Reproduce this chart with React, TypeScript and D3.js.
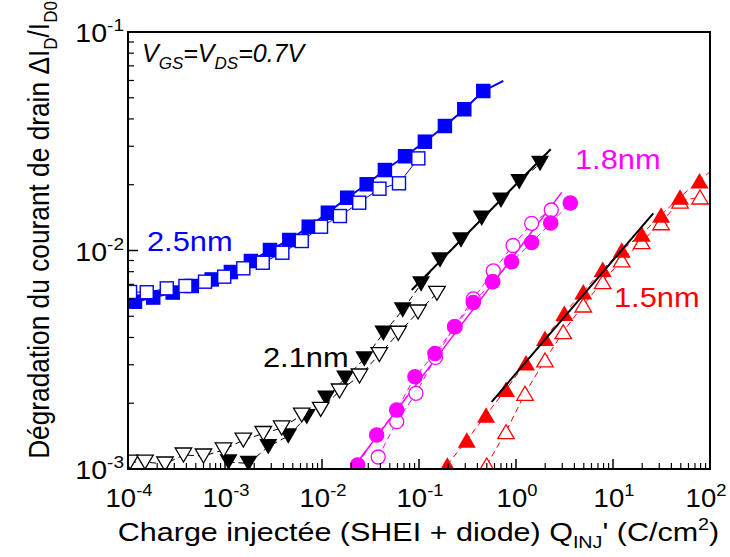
import React from "react";
import * as d3 from "d3";

// ---- data ----
const blueFilledX = [1.18e-4, 1.82e-4, 2.89e-4, 4.54e-4, 7.29e-4, 1.15e-3, 1.85e-3, 2.91e-3, 4.6e-3, 7.3e-3, 1.15e-2, 1.82e-2, 2.89e-2, 4.45e-2, 7.18e-2, 0.115, 0.185, 0.293, 0.46];
const blueFilledY = [5.83e-3, 6.09e-3, 6.42e-3, 6.88e-3, 7.37e-3, 7.97e-3, 8.95e-3, 1.005e-2, 1.117e-2, 1.285e-2, 1.489e-2, 1.744e-2, 2.009e-2, 2.335e-2, 2.7e-2, 3.147e-2, 3.713e-2, 4.43e-2, 5.37e-2];
const blueOpenX = [1.05e-4, 1.56e-4, 2.51e-4, 3.91e-4, 6.22e-4, 9.81e-4, 1.545e-3, 2.45e-3, 3.9e-3, 6.18e-3, 9.77e-3, 1.53e-2, 2.42e-2, 3.91e-2, 6.22e-2, 9.84e-2];
const blueOpenY = [6.46e-3, 6.44e-3, 6.71e-3, 6.88e-3, 7.2e-3, 7.59e-3, 8.29e-3, 8.79e-3, 9.77e-3, 1.105e-2, 1.285e-2, 1.438e-2, 1.655e-2, 1.918e-2, 2.03e-2, 2.64e-2];
const blueFitEndX = [0.74];
const blueFitEndY = [5.98e-2];

const blackFilledX = [1.087e-3, 1.747e-3, 2.79e-3, 4.49e-3, 6.96e-3, 1.1e-2, 1.73e-2, 2.73e-2, 4.29e-2, 6.79e-2, 0.105, 0.1646, 0.271, 0.443, 0.7, 1.08, 1.77];
const blackFilledY = [1.076e-3, 1.06e-3, 1.265e-3, 1.416e-3, 1.735e-3, 2.107e-3, 2.6e-3, 3.19e-3, 4.18e-3, 5.34e-3, 7.03e-3, 9.05e-3, 1.117e-2, 1.404e-2, 1.7e-2, 2.065e-2, 2.5e-2];
const blackOpenX = [1.05e-4, 1.497e-4, 2.406e-4, 3.73e-4, 6.0e-4, 9.65e-4, 1.545e-3, 2.48e-3, 3.84e-3, 6.18e-3, 9.7e-3, 1.515e-2, 2.435e-2, 3.9e-2, 6.12e-2, 9.77e-2, 0.1533];
const blackOpenY = [1.076e-3, 1.076e-3, 1.054e-3, 1.159e-3, 1.147e-3, 1.222e-3, 1.357e-3, 1.454e-3, 1.541e-3, 1.766e-3, 1.873e-3, 2.275e-3, 2.665e-3, 3.34e-3, 4.18e-3, 5.23e-3, 6.37e-3];
const blackFitX = [0.0841, 2.28];
const blackFitY = [6.6e-3, 2.905e-2];

const magFilledX = [2.333e-2, 3.66e-2, 5.89e-2, 9.09e-2, 0.146, 0.235, 0.363, 0.575, 0.9, 1.45, 2.28, 3.63];
const magFilledY = [1.043e-3, 1.43e-3, 1.862e-3, 2.645e-3, 3.38e-3, 4.48e-3, 5.78e-3, 7.2e-3, 8.89e-3, 1.088e-2, 1.336e-2, 1.65e-2];
const magOpenX = [3.8e-2, 5.89e-2, 9.31e-2, 0.148, 0.232, 0.363, 0.583, 0.931, 1.45, 2.31];
const magOpenY = [1.135e-3, 1.646e-3, 2.221e-3, 3.24e-3, 4.48e-3, 6.0e-3, 8.06e-3, 1.054e-2, 1.332e-2, 1.532e-2];
const magFitX = [2.28e-2, 2.96];
const magFitY = [1.065e-3, 1.846e-2];

const redFilledX = [0.196, 0.311, 0.491, 0.789, 1.268, 1.99, 3.15, 4.94, 7.83, 12.3, 19.8, 31.3, 49.1, 78.0, 121];
const redFilledY = [1.043e-3, 1.357e-3, 1.766e-3, 2.317e-3, 3.066e-3, 3.965e-3, 5.16e-3, 6.48e-3, 8.2e-3, 1.005e-2, 1.19e-2, 1.454e-2, 1.757e-2, 2.088e-2, 2.46e-2];
const redOpenX = [0.499, 0.789, 1.239, 1.99, 3.07, 4.94, 7.83, 12.3, 19.8, 31.3, 49.1, 78.9];
const redOpenY = [1.043e-3, 1.482e-3, 2.221e-3, 3.155e-3, 4.25e-3, 5.63e-3, 7.2e-3, 9.05e-3, 1.097e-2, 1.34e-2, 1.684e-2, 1.757e-2];
const redFitX = [0.5616, 26.0];
const redFitY = [2.03e-3, 1.48e-2];

const xMajorExp = [-4, -3, -2, -1, 0, 1, 2];
const yMajorExp = [-3, -2, -1];

const FONT = "'Liberation Sans', Arial, Helvetica, sans-serif";

const W = 730, H = 557;
const L = 128, R = 710, T = 32, B = 469;

const zip = (xs: number[], ys: number[]) => xs.map((v, i) => [v, ys[i]] as [number, number]);

function SText(props: { x: number; y: number; sx?: number; sy?: number; rotate?: number; children: React.ReactNode; [k: string]: any }) {
  const { x, y, sx = 1, sy = 1, rotate = 0, children, ...rest } = props;
  return (
    <g transform={`translate(${x},${y}) rotate(${rotate}) scale(${sx},${sy})`}>
      <text x={0} y={0} {...rest}>{children}</text>
    </g>
  );
}

export default function App() {
  const x = d3.scaleLog().domain([1e-4, 1e2]).range([L, R]);
  const y = d3.scaleLog().domain([1e-3, 1e-1]).range([B, T]);
  const line = d3.line<[number, number]>().x((d) => x(d[0])).y((d) => y(d[1]));

  const xMinor: number[] = [];
  xMajorExp.slice(0, -1).forEach((e) => { for (let k = 2; k <= 9; k++) xMinor.push(k * Math.pow(10, e)); });
  const yMinor: number[] = [];
  yMajorExp.slice(0, -1).forEach((e) => { for (let k = 2; k <= 9; k++) yMinor.push(k * Math.pow(10, e)); });

  const sq = (pts: [number, number][], filled: boolean, color: string, key: string) =>
    pts.map((p, i) => {
      const s = filled ? 14.5 : 13;
      return (
        <rect key={key + i} x={x(p[0]) - s / 2} y={y(p[1]) - s / 2} width={s} height={s}
          fill={filled ? color : "white"} stroke={color} strokeWidth={filled ? 0 : 1.4} />
      );
    });
  const tri = (pts: [number, number][], filled: boolean, color: string, down: boolean, key: string) =>
    pts.map((p, i) => {
      const cx = x(p[0]), cy = y(p[1]);
      const w = filled ? 18 : 16.5, h = filled ? 15.5 : 14;
      const d = down
        ? `M${cx - w / 2},${cy - h / 2}L${cx + w / 2},${cy - h / 2}L${cx},${cy + h / 2}Z`
        : `M${cx - w / 2},${cy + h / 2}L${cx + w / 2},${cy + h / 2}L${cx},${cy - h / 2}Z`;
      return <path key={key + i} d={d} fill={filled ? color : "white"} stroke={color} strokeWidth={filled ? 0 : 1.3} />;
    });
  const circ = (pts: [number, number][], filled: boolean, color: string, key: string) =>
    pts.map((p, i) => (
      <circle key={key + i} cx={x(p[0])} cy={y(p[1])} r={filled ? 7.8 : 7}
        fill={filled ? color : "white"} stroke={color} strokeWidth={filled ? 0 : 1.3} />
    ));

  const blueF = zip(blueFilledX, blueFilledY);
  const blueO = zip(blueOpenX, blueOpenY);
  const blackF = zip(blackFilledX, blackFilledY);
  const blackO = zip(blackOpenX, blackOpenY);
  const magF = zip(magFilledX, magFilledY);
  const magO = zip(magOpenX, magOpenY);
  const redF = zip(redFilledX, redFilledY);
  const redO = zip(redOpenX, redOpenY);

  const dash = "6,4";
  const labelSX = 1.1;

  return (
    <svg width={W} height={H} style={{ position: "absolute", left: 0, top: 0, background: "white" }} fontFamily={FONT}>
      <rect x={0} y={0} width={W} height={H} fill="white" />
      <defs>
        <clipPath id="plot">
          <rect x={L} y={T} width={R - L} height={B - T} />
        </clipPath>
      </defs>

      <g clipPath="url(#plot)">
        {/* blue 2.5nm */}
        <path d={line([...blueF, ...zip(blueFitEndX, blueFitEndY)]) || ""} fill="none" stroke="#0000ff" strokeWidth={2} />
        <path d={line(blueO) || ""} fill="none" stroke="#0000ff" strokeWidth={1} />
        {sq(blueF, true, "#0000ff", "bf")}
        {sq(blueO, false, "#0000ff", "bo")}

        {/* black 2.1nm */}
        <path d={line(blackF) || ""} fill="none" stroke="black" strokeWidth={1} strokeDasharray={dash} />
        <path d={line(blackO) || ""} fill="none" stroke="black" strokeWidth={1} strokeDasharray={dash} />
        <path d={line(zip(blackFitX, blackFitY)) || ""} fill="none" stroke="black" strokeWidth={2} />
        {tri(blackF, true, "black", true, "kf")}
        {tri(blackO, false, "black", true, "ko")}

        {/* magenta 1.8nm */}
        <path d={line(magF) || ""} fill="none" stroke="#ff00ff" strokeWidth={1} strokeDasharray={dash} />
        <path d={line(magO) || ""} fill="none" stroke="#ff00ff" strokeWidth={1} strokeDasharray={dash} />
        <path d={line(zip(magFitX, magFitY)) || ""} fill="none" stroke="#ff00ff" strokeWidth={1.5} />
        {circ(magO, false, "#ff00ff", "mo")}
        {circ(magF, true, "#ff00ff", "mf")}

        {/* red 1.5nm */}
        <path d={line(redF) || ""} fill="none" stroke="#ff0000" strokeWidth={1} strokeDasharray={dash} />
        <path d={line(redO) || ""} fill="none" stroke="#ff0000" strokeWidth={1} strokeDasharray={dash} />
        {tri(redO, false, "#ff0000", false, "ro")}
        {tri(redF, true, "#ff0000", false, "rf")}
        <path d={line(zip(redFitX, redFitY)) || ""} fill="none" stroke="black" strokeWidth={2} />
      </g>

      {/* ticks */}
      {xMajorExp.map((e) => (
        <line key={"xM" + e} x1={x(Math.pow(10, e))} x2={x(Math.pow(10, e))} y1={B} y2={B - 10} stroke="black" strokeWidth={1.5} />
      ))}
      {xMinor.map((v, i) => (
        <line key={"xm" + i} x1={x(v)} x2={x(v)} y1={B} y2={B - 6} stroke="black" strokeWidth={1.2} />
      ))}
      {yMajorExp.map((e) => (
        <line key={"yM" + e} x1={L} x2={L + 10} y1={y(Math.pow(10, e))} y2={y(Math.pow(10, e))} stroke="black" strokeWidth={1.5} />
      ))}
      {yMinor.map((v, i) => (
        <line key={"ym" + i} x1={L} x2={L + 6} y1={y(v)} y2={y(v)} stroke="black" strokeWidth={1.2} />
      ))}

      {/* frame */}
      <rect x={L} y={T} width={R - L} height={B - T} fill="none" stroke="black" strokeWidth={2} />

      {/* tick labels */}
      {xMajorExp.map((e, i) => (
        <SText key={"xl" + e} x={x(Math.pow(10, e)) + (i === xMajorExp.length - 1 ? -4 : 1)} y={507} sx={1.08} textAnchor="middle" fontSize={25.5} fill="black">
          10<tspan fontSize={17} dy={-11}>{e}</tspan>
        </SText>
      ))}
      {yMajorExp.map((e) => (
        <SText key={"yl" + e} x={124} y={y(Math.pow(10, e)) + 10} sx={1.12} textAnchor="end" fontSize={25.5} fill="black">
          10<tspan fontSize={17} dy={-11}>{e}</tspan>
        </SText>
      ))}

      {/* axis titles */}
      <SText x={418.5} y={541} sx={1.16} textAnchor="middle" fontSize={26.3} fill="black">
        Charge injectée (SHEI + diode) Q<tspan fontSize={17} dy={7}>INJ</tspan>
        <tspan dy={-7}>' (C/cm</tspan><tspan fontSize={17} dy={-11}>2</tspan><tspan dy={11}>)</tspan>
      </SText>
      <SText x={49} y={230} rotate={-90} sy={1.1} textAnchor="middle" fontSize={26.3} fill="black">
        Dégradation du courant de drain ΔI<tspan fontSize={17} dy={7}>D</tspan>
        <tspan dy={-7}>/I</tspan><tspan fontSize={17} dy={7}>D0</tspan>
      </SText>

      {/* annotations */}
      <SText x={142} y={62} fontSize={25} fontStyle="italic" fill="black">
        V<tspan fontSize={17} dy={7}>GS</tspan><tspan dy={-7}>=V</tspan><tspan fontSize={17} dy={7}>DS</tspan><tspan dy={-7}>=0.7V</tspan>
      </SText>
      <SText x={147} y={251} sx={labelSX} fontSize={28} fill="#0000ff">2.5nm</SText>
      <SText x={263} y={367} sx={labelSX} fontSize={28} fill="black">2.1nm</SText>
      <SText x={575} y={169} sx={labelSX} fontSize={28} fill="#ff00ff">1.8nm</SText>
      <SText x={614} y={307} sx={labelSX} fontSize={28} fill="#ff0000">1.5nm</SText>
    </svg>
  );
}
